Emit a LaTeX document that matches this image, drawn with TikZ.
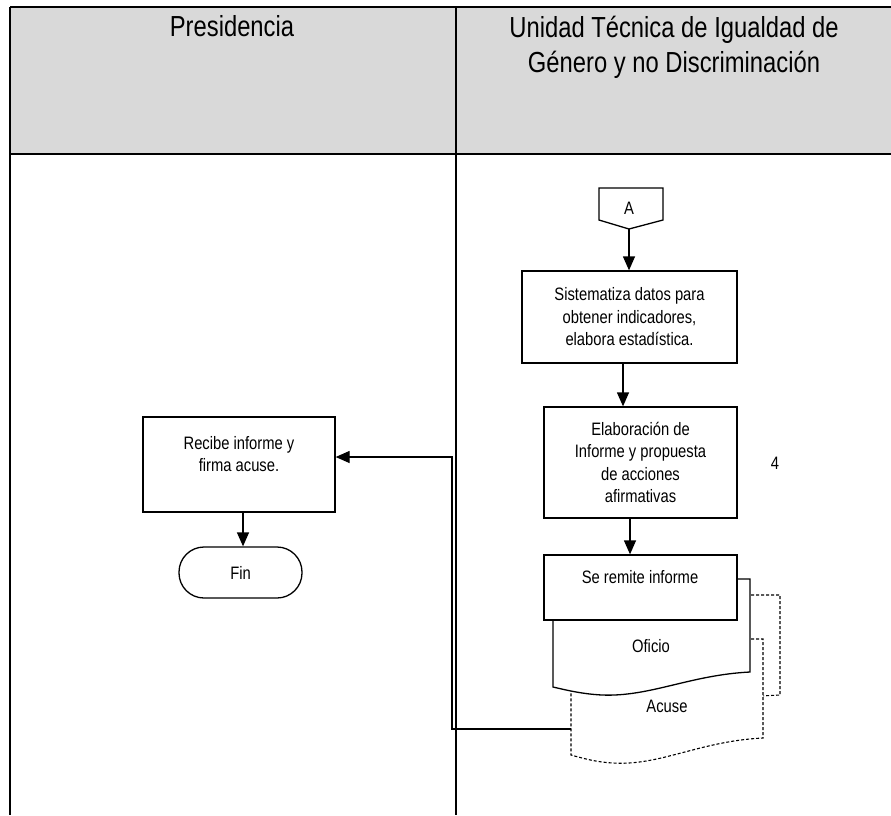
\documentclass[tikz,border=0pt]{standalone}
\usepackage{fontspec}
\setmainfont{Liberation Sans}[FakeStretch=0.82]
\usetikzlibrary{arrows.meta}
\definecolor{hdr}{HTML}{D9D9D9}
\begin{document}
\begin{tikzpicture}[x=1pt,y=-1pt,
  line width=1.3pt,
  body/.style={font=\fontsize{18}{22.5}\selectfont,align=center,inner sep=0pt},
  head/.style={font=\fontsize{29}{35}\selectfont,align=center,inner sep=0pt},
  flow/.style={-{Triangle[width=12pt,length=14pt]}},
  docsolid/.style={draw,fill=white,line width=1.3pt},
  docdash/.style={draw,fill=white,dash pattern=on 3pt off 2pt,line width=1.1pt}]
\useasboundingbox (0,0) rectangle (891,815);
% table
\fill[hdr] (10,7) rectangle (891,154);
\draw (10,7) -- (891,7);
\draw (10,154) -- (891,154);
\draw (10,7) -- (10,815);
\draw (456,7) -- (456,815);
\node[head,anchor=base] (hpres) at (232,36) {Presidencia};
\node[head] (hunit) at (674,47) {Unidad Técnica de Igualdad de\\Género y no Discriminación};
% off-page connector A
\draw[fill=white] (599,188) -- (663,188) -- (663,220) -- (629,229) -- (599,220) -- cycle;
\coordinate (atip) at (629,229);
\node[body] (alab) at (629,208) {A};
% boxes
\node[draw,fill=white,inner sep=0pt,minimum width=215pt,minimum height=92pt,body] (sist) at (629.5,317) {Sistematiza datos para\\obtener indicadores,\\elabora estadística.};
\node[draw,fill=white,inner sep=0pt,minimum width=193pt,minimum height=111pt,body] (elab) at (640.5,462.5) {Elaboración de\\Informe y propuesta\\de acciones\\afirmativas};
\node[body] (four) at (775,463) {4};
% document stack
\draw[docdash] (576,595) -- (780,595) -- (780,695) -- (700,699) -- (576,705) -- cycle;
\draw[docdash] (571,639) -- (763,639) -- (763,738) .. controls (700,741) and (660,766) .. (613,763) .. controls (595,762) and (582,758) .. (571,755) -- cycle;
\coordinate (acuse) at (571,729);
\node[body] (acuselab) at (667,706) {Acuse};
\draw[docsolid] (553,579) -- (750,579) -- (750,672) .. controls (690,675) and (650,697) .. (602,695) .. controls (582,694) and (566,690) .. (553,687) -- cycle;
\node[body] (oficiolab) at (651,646) {Oficio};
\node[draw,fill=white,inner sep=0pt,minimum width=193pt,minimum height=65pt] (remite) at (640.5,587.5) {};
\node[body] (remitelab) at (640,577) {Se remite informe};
% Presidencia column
\node[draw,fill=white,inner sep=0pt,minimum width=192pt,minimum height=95pt] (recibe) at (239,464.5) {};
\node[body] (recibelab) at (239,454) {Recibe informe y\\firma acuse.};
\node[draw,fill=white,rounded corners=25pt,inner sep=0pt,minimum width=123pt,minimum height=51pt,body] (fin) at (240.5,572.5) {Fin};
% connectors
\draw[flow] (atip) -- (sist.north -| atip);
\draw[flow] (sist.south -| 623,0) -- (elab.north -| 623,0);
\draw[flow] (elab.south -| 630,0) -- (remite.north -| 630,0);
\draw[flow] (acuse) -- (452,729) -- (452,457) -- (recibe.east |- 0,457);
\draw[flow] (recibe.south -| 243,0) -- (fin.north -| 243,0);
\end{tikzpicture}
\end{document}
